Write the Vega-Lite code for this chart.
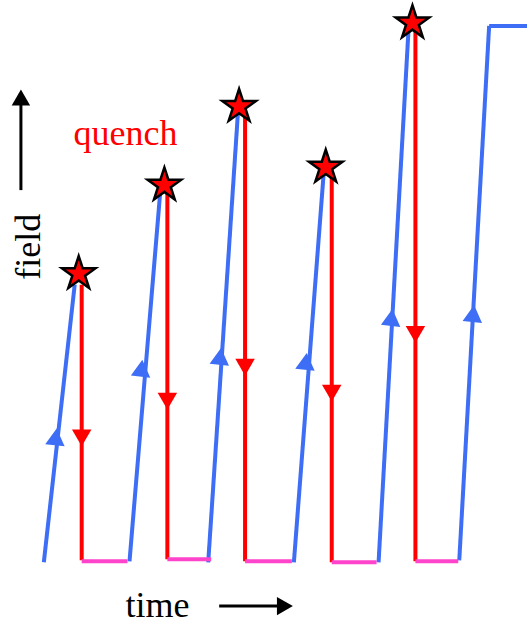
{
  "$schema": "https://vega.github.io/schema/vega-lite/v6.json",
  "width": 529,
  "height": 627,
  "autosize": {"type": "fit", "contains": "padding"},
  "padding": 0,
  "config": {"view": {"stroke": null}},
  "datasets": {
    "segs": [
      {"kind": "ramp", "t": 44, "f": -2, "t2": 75, "f2": 277},
      {"kind": "ramp", "t": 130, "f": -1, "t2": 161, "f2": 372},
      {"kind": "ramp", "t": 209, "f": -2, "t2": 239, "f2": 452},
      {"kind": "ramp", "t": 295, "f": -2, "t2": 325, "f2": 390},
      {"kind": "ramp", "t": 380, "f": -2, "t2": 410, "f2": 532},
      {"kind": "ramp", "t": 461, "f": 0, "t2": 491, "f2": 537},
      {"kind": "ramp", "t": 491, "f": 537, "t2": 529, "f2": 537},
      {"kind": "quench", "t": 82, "f": 277, "t2": 82, "f2": 0},
      {"kind": "quench", "t": 168, "f": 372, "t2": 168, "f2": 1},
      {"kind": "quench", "t": 246, "f": 452, "t2": 246, "f2": -1},
      {"kind": "quench", "t": 333, "f": 390, "t2": 333, "f2": -2},
      {"kind": "quench", "t": 417, "f": 532, "t2": 417, "f2": -1},
      {"kind": "rest", "t": 82, "f": -1, "t2": 128, "f2": -1},
      {"kind": "rest", "t": 168, "f": 1, "t2": 212, "f2": 1},
      {"kind": "rest", "t": 246, "f": -1, "t2": 293, "f2": -1},
      {"kind": "rest", "t": 333, "f": -2, "t2": 378, "f2": -2},
      {"kind": "rest", "t": 417, "f": -1, "t2": 460, "f2": -1}
    ],
    "ups": [
      {"t": 56, "f": 124},
      {"t": 142, "f": 193},
      {"t": 221, "f": 205},
      {"t": 307, "f": 200},
      {"t": 393, "f": 244},
      {"t": 475, "f": 248}
    ],
    "downs": [
      {"t": 82, "f": 123},
      {"t": 168, "f": 160},
      {"t": 246, "f": 194},
      {"t": 333, "f": 168},
      {"t": 417, "f": 227}
    ],
    "stars": [
      {"t": 79, "f": 288},
      {"t": 165, "f": 377},
      {"t": 240, "f": 456},
      {"t": 327, "f": 395},
      {"t": 414, "f": 540}
    ],
    "axisArrows": [
      {"t": 21, "f": 372, "t2": 21, "f2": 460},
      {"t": 220, "f": -46, "t2": 282, "f2": -46}
    ]
  },
  "layer": [
    {
      "data": {"name": "segs"},
      "mark": {"type": "rule", "strokeWidth": 4, "strokeCap": "butt"},
      "encoding": {
        "x": {"field": "t", "type": "quantitative", "scale": {"domain": [0, 529], "nice": false, "zero": false}, "axis": null},
        "y": {"field": "f", "type": "quantitative", "scale": {"domain": [-67, 560], "nice": false, "zero": false}, "axis": null},
        "x2": {"field": "t2"},
        "y2": {"field": "f2"},
        "color": {"field": "kind", "type": "nominal", "legend": null,
          "scale": {"domain": ["ramp", "quench", "rest"], "range": ["#3d6ef5", "#ff0000", "#ff44cc"]}}
      }
    },
    {
      "data": {"name": "ups"},
      "mark": {"type": "point", "shape": "triangle-up", "filled": true, "color": "#3d6ef5", "size": 380, "angle": 6, "opacity": 1},
      "encoding": {
        "x": {"field": "t", "type": "quantitative"},
        "y": {"field": "f", "type": "quantitative"}
      }
    },
    {
      "data": {"name": "downs"},
      "mark": {"type": "point", "shape": "triangle-down", "filled": true, "color": "#ff0000", "size": 380, "opacity": 1},
      "encoding": {
        "x": {"field": "t", "type": "quantitative"},
        "y": {"field": "f", "type": "quantitative"}
      }
    },
    {
      "data": {"name": "stars"},
      "mark": {"type": "point", "shape": "M0,-1 L0.2245,-0.309 L0.951,-0.309 L0.363,0.118 L0.588,0.809 L0,0.382 L-0.588,0.809 L-0.363,0.118 L-0.951,-0.309 L-0.2245,-0.309 Z", "filled": true, "fill": "#ff0000", "stroke": "#000000", "strokeWidth": 2.5, "size": 1250, "opacity": 1},
      "encoding": {
        "x": {"field": "t", "type": "quantitative"},
        "y": {"field": "f", "type": "quantitative"}
      }
    },
    {
      "data": {"name": "axisArrows"},
      "mark": {"type": "rule", "strokeWidth": 3, "color": "#000000"},
      "encoding": {
        "x": {"field": "t", "type": "quantitative"},
        "y": {"field": "f", "type": "quantitative"},
        "x2": {"field": "t2"},
        "y2": {"field": "f2"}
      }
    },
    {
      "data": {"values": [{"t": 21, "f": 465}]},
      "mark": {"type": "point", "shape": "triangle-up", "filled": true, "color": "#000000", "size": 340, "opacity": 1},
      "encoding": {
        "x": {"field": "t", "type": "quantitative"},
        "y": {"field": "f", "type": "quantitative"}
      }
    },
    {
      "data": {"values": [{"t": 286, "f": -46}]},
      "mark": {"type": "point", "shape": "triangle-right", "filled": true, "color": "#000000", "size": 340, "opacity": 1},
      "encoding": {
        "x": {"field": "t", "type": "quantitative"},
        "y": {"field": "f", "type": "quantitative"}
      }
    },
    {
      "data": {"values": [{"label": "quench", "t": 126, "f": 417}]},
      "mark": {"type": "text", "font": "Liberation Serif", "fontSize": 36, "color": "#ff0000", "align": "center", "baseline": "alphabetic"},
      "encoding": {
        "x": {"field": "t", "type": "quantitative"},
        "y": {"field": "f", "type": "quantitative"},
        "text": {"field": "label"}
      }
    },
    {
      "data": {"values": [{"label": "time", "t": 158, "f": -57}]},
      "mark": {"type": "text", "font": "Liberation Serif", "fontSize": 36, "color": "#000000", "align": "center", "baseline": "alphabetic"},
      "encoding": {
        "x": {"field": "t", "type": "quantitative"},
        "y": {"field": "f", "type": "quantitative"},
        "text": {"field": "label"}
      }
    },
    {
      "data": {"values": [{"label": "field", "t": 40, "f": 315}]},
      "mark": {"type": "text", "font": "Liberation Serif", "fontSize": 36, "color": "#000000", "align": "center", "baseline": "alphabetic", "angle": 270},
      "encoding": {
        "x": {"field": "t", "type": "quantitative"},
        "y": {"field": "f", "type": "quantitative"},
        "text": {"field": "label"}
      }
    }
  ]
}
